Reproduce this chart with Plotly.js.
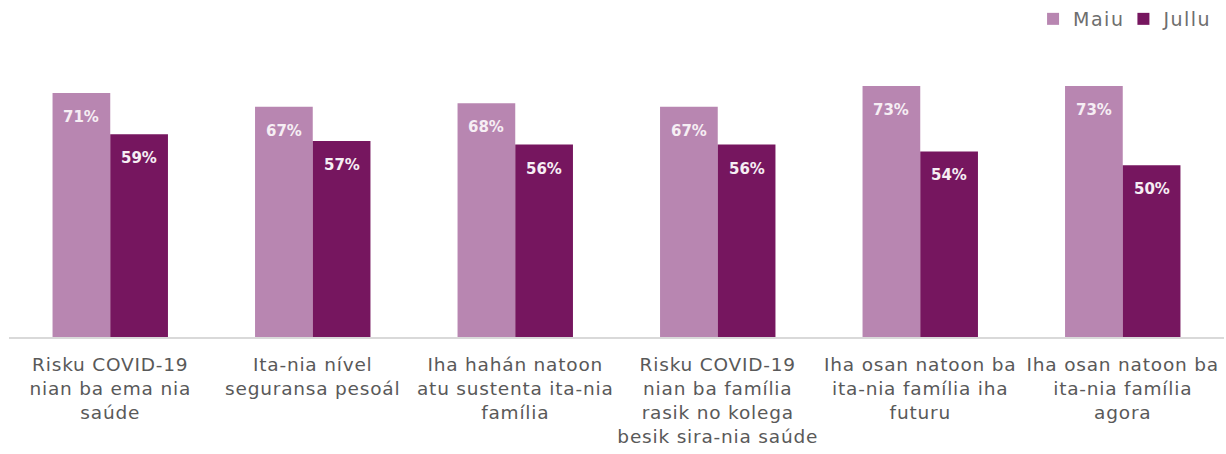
<!DOCTYPE html>
<html>
<head>
<meta charset="utf-8">
<script src="https://cdn.plot.ly/plotly-3.0.1.min.js"></script>
<style>
html,body{margin:0;padding:0;background:#fff;}
#chart{width:1226px;height:454px;}
#chart .xtick text{letter-spacing:0.8px;}
#chart .legendtext{letter-spacing:1.5px;}
</style>
</head>
<body>
<div id="chart"></div>
<script>
const categories = [
  "Risku COVID-19<br>nian ba ema nia<br>saúde",
  "Ita-nia nível<br>seguransa pesoál",
  "Iha hahán natoon<br>atu sustenta ita-nia<br>família",
  "Risku COVID-19<br>nian ba família<br>rasik no kolega<br>besik sira-nia saúde",
  "Iha osan natoon ba<br>ita-nia família iha<br>futuru",
  "Iha osan natoon ba<br>ita-nia família<br>agora"
];
const maiu = [71, 67, 68, 67, 73, 73];
const jullu = [59, 57, 56, 56, 54, 50];

const cMaiu = "#b886b1";
const cJullu = "#76165f";
const font = "DejaVu Sans, Arial, sans-serif";

const traces = [
  {type: "bar", name: "Maiu", x: categories, y: maiu, marker: {color: cMaiu}},
  {type: "bar", name: "Jullu", x: categories, y: jullu, marker: {color: cJullu}}
];

const plotW = 1226 - 9 - 2;
const bw = plotW / categories.length * 0.57 / 2;
const annotations = [];
[[maiu, -1], [jullu, 1]].forEach(([vals, side]) => {
  vals.forEach((v, i) => {
    annotations.push({
      x: categories[i], y: v, xref: "x", yref: "y",
      text: "<b>" + v + "%</b>", showarrow: false,
      yanchor: "top", yshift: -13, xshift: side * bw / 2,
      font: {family: font, size: 15, color: "#f6eef4"}
    });
  });
});

const layout = {
  width: 1226, height: 454,
  margin: {l: 9, r: 2, t: 60, b: 117},
  paper_bgcolor: "#fff", plot_bgcolor: "#fff",
  barmode: "group", bargap: 0.43, bargroupgap: 0,
  font: {family: font, color: "#595959", size: 18},
  xaxis: {showline: true, linecolor: "#d9d9d9", linewidth: 2, ticks: "", showgrid: false,
          ticklabelstandoff: 10,
          tickfont: {family: font, size: 18.5, color: "#595959"}},
  yaxis: {range: [0, 80.6], visible: false, showgrid: false, zeroline: false},
  legend: {orientation: "h", x: 0.987, xanchor: "right", xref: "container",
           y: 1, yanchor: "top", yref: "container",
           font: {family: font, size: 19, color: "#6e6e6e"}, traceorder: "normal"},
  showlegend: true,
  annotations: annotations
};

Plotly.newPlot("chart", traces, layout, {displayModeBar: false});
</script>
</body>
</html>
